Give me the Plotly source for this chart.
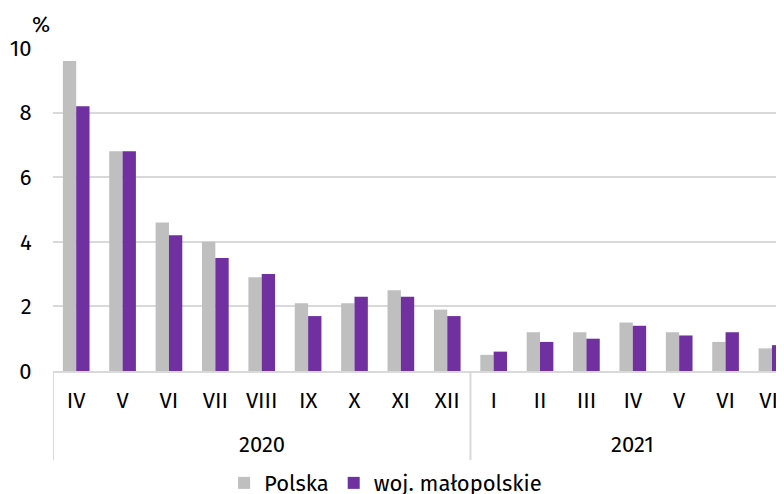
import plotly.graph_objects as go

years = ["2020"] * 9 + ["2021"] * 7
months = ["IV", "V", "VI", "VII", "VIII", "IX", "X", "XI", "XII",
          "I", "II", "III", "IV", "V", "VI", "VII"]
polska = [9.6, 6.8, 4.6, 4.0, 2.9, 2.1, 2.1, 2.5, 1.9,
          0.5, 1.2, 1.2, 1.5, 1.2, 0.9, 0.7]
malopolskie = [8.2, 6.8, 4.2, 3.5, 3.0, 1.7, 2.3, 2.3, 1.7,
               0.6, 0.9, 1.0, 1.4, 1.1, 1.2, 0.8]
y_ticks = [0, 2, 4, 6, 8, 10]

REG = "Fira Sans, Open Sans, sans-serif"

idx = list(range(len(months)))

fig = go.Figure()
fig.add_trace(go.Bar(x=idx, y=polska, name="Polska",
                     marker=dict(color="#bfbfbf", line=dict(width=0))))
fig.add_trace(go.Bar(x=idx, y=malopolskie, name="woj. małopolskie",
                     marker=dict(color="#7030a0", line=dict(width=0))))

# page body has an 8px margin, so the figure is sized to the visible area
fig.update_layout(
    width=776, height=486,
    margin=dict(l=45, r=0, t=40, b=123, autoexpand=False),
    paper_bgcolor="white", plot_bgcolor="white",
    font=dict(family=REG, size=22, color="black"),
    barmode="group", bargap=0.425, bargroupgap=0,
    showlegend=True,
    legend=dict(orientation="h", x=0.455, xref="paper", xanchor="center",
                y=-0.347, yref="paper", yanchor="middle",
                font=dict(family=REG, size=22), itemwidth=30, tracegroupgap=0),
)
fig.update_xaxes(
    range=[-0.5, 15.26], tickvals=idx, ticktext=months,
    showline=True, linecolor="#d9d9d9", linewidth=2,
    ticks="outside", ticklen=9, tickcolor="rgba(0,0,0,0)",
    tickfont=dict(family=REG, size=22, color="black"),
    ticklabeloverflow="allow",
    showgrid=False, zeroline=False, automargin=False,
)
fig.update_yaxes(
    range=[0, 10], tickvals=y_ticks,
    showgrid=True, gridcolor="#d9d9d9", gridwidth=2,
    zeroline=False, showline=False,
    ticks="outside", ticklen=16, tickcolor="rgba(0,0,0,0)",
    tickfont=dict(family=REG, size=22, color="black"),
    automargin=False,
)

# year group labels and dividers
groups = []
for i, yv in enumerate(years):
    if not groups or groups[-1][0] != yv:
        groups.append([yv, i, i])
    else:
        groups[-1][2] = i
for yv, a, b in groups:
    fig.add_annotation(text=yv, x=(a + b) / 2, y=-0.229, xref="x", yref="paper",
                       xanchor="center", yanchor="middle", showarrow=False,
                       font=dict(family=REG, size=22, color="black"))
    fig.add_shape(type="line", xref="x", yref="paper", x0=a - 0.5, x1=a - 0.5,
                  y0=0, y1=-0.276, line=dict(color="#d9d9d9", width=2))

fig.add_annotation(text="%", xref="paper", yref="paper", x=-0.0164, y=1.074,
                   xanchor="center", yanchor="middle", showarrow=False,
                   font=dict(family=REG, size=22, color="black"))

fig.write_html("out.html")
